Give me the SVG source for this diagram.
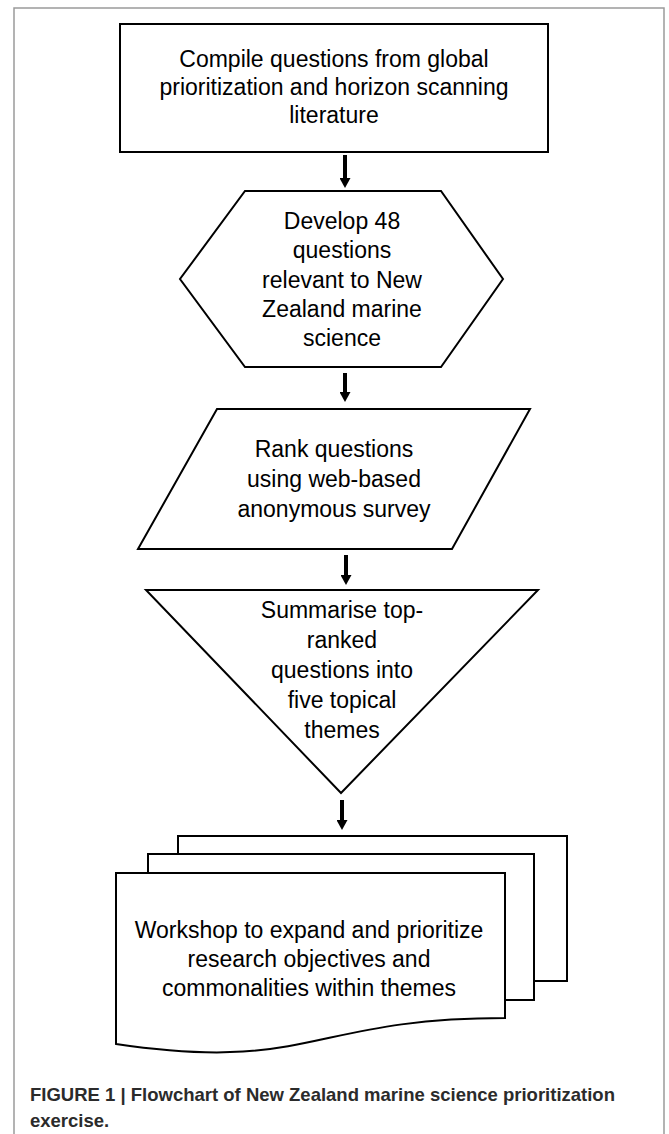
<svg xmlns="http://www.w3.org/2000/svg" width="669" height="1134" viewBox="0 0 669 1134">
  <defs>
    <style>
      .shape { fill: #ffffff; stroke: #000000; stroke-width: 2; stroke-linejoin: miter; }
      .lbl { font-family: "Liberation Sans", Arial, sans-serif; font-size: 23px; fill: #000000; text-anchor: middle; }
      .cap { font-family: "Liberation Sans", Arial, sans-serif; font-size: 18.5px; font-weight: bold; fill: #2b2b2b; }
      .conn { stroke: #000000; stroke-width: 4; fill: none; }
    </style>
    <marker id="ah" markerUnits="userSpaceOnUse" markerWidth="10" markerHeight="11" refX="2" refY="5.5" orient="auto">
      <path d="M0,0 L10,5.5 L0,11 Z" fill="#000000"/>
    </marker>
  </defs>
  <rect x="0" y="0" width="669" height="1134" fill="#ffffff"/>
  <rect id="frame" x="14" y="8" width="650" height="1150" fill="none" stroke="#9a9a9a" stroke-width="1.5"/>

  <g id="connectors">
    <line class="conn" x1="345" y1="155" x2="345" y2="180" marker-end="url(#ah)"/>
    <line class="conn" x1="345" y1="373" x2="345" y2="394" marker-end="url(#ah)"/>
    <line class="conn" x1="346" y1="555" x2="346" y2="577" marker-end="url(#ah)"/>
    <line class="conn" x1="342" y1="800" x2="342" y2="822" marker-end="url(#ah)"/>
  </g>

  <g id="node-compile">
    <rect class="shape" x="120" y="24" width="428" height="128"/>
    <text class="lbl" x="334" y="67">Compile questions from global</text>
    <text class="lbl" x="334" y="95">prioritization and horizon scanning</text>
    <text class="lbl" x="334" y="123">literature</text>
  </g>

  <g id="node-develop">
    <polygon class="shape" points="245,191 441,191 503,279 441,367 245,367 180,279"/>
    <text class="lbl" x="342" y="229">Develop 48</text>
    <text class="lbl" x="342" y="258">questions</text>
    <text class="lbl" x="342" y="288">relevant to New</text>
    <text class="lbl" x="342" y="317">Zealand marine</text>
    <text class="lbl" x="342" y="346">science</text>
  </g>

  <g id="node-rank">
    <polygon class="shape" points="217,409 530,409 452,549 138,549"/>
    <text class="lbl" x="334" y="457">Rank questions</text>
    <text class="lbl" x="334" y="487">using web-based</text>
    <text class="lbl" x="334" y="517">anonymous survey</text>
  </g>

  <g id="node-summarise">
    <polygon class="shape" points="146,590 538,590 341,793"/>
    <text class="lbl" x="342" y="618">Summarise top-</text>
    <text class="lbl" x="342" y="648">ranked</text>
    <text class="lbl" x="342" y="678">questions into</text>
    <text class="lbl" x="342" y="708">five topical</text>
    <text class="lbl" x="342" y="738">themes</text>
  </g>

  <g id="node-workshop">
    <rect class="shape" x="178" y="836" width="389" height="145"/>
    <rect class="shape" x="148" y="854" width="386" height="146"/>
    <path class="shape" d="M116,873 L505,873 L505,1018 C310.5,1018 310.5,1073 116,1044 Z"/>
    <text class="lbl" x="309" y="938">Workshop to expand and prioritize</text>
    <text class="lbl" x="309" y="967">research objectives and</text>
    <text class="lbl" x="309" y="996">commonalities within themes</text>
  </g>

  <g id="caption">
    <text class="cap" x="30" y="1101">FIGURE 1 | Flowchart of New Zealand marine science prioritization</text>
    <text class="cap" x="30" y="1127">exercise.</text>
  </g>
</svg>
